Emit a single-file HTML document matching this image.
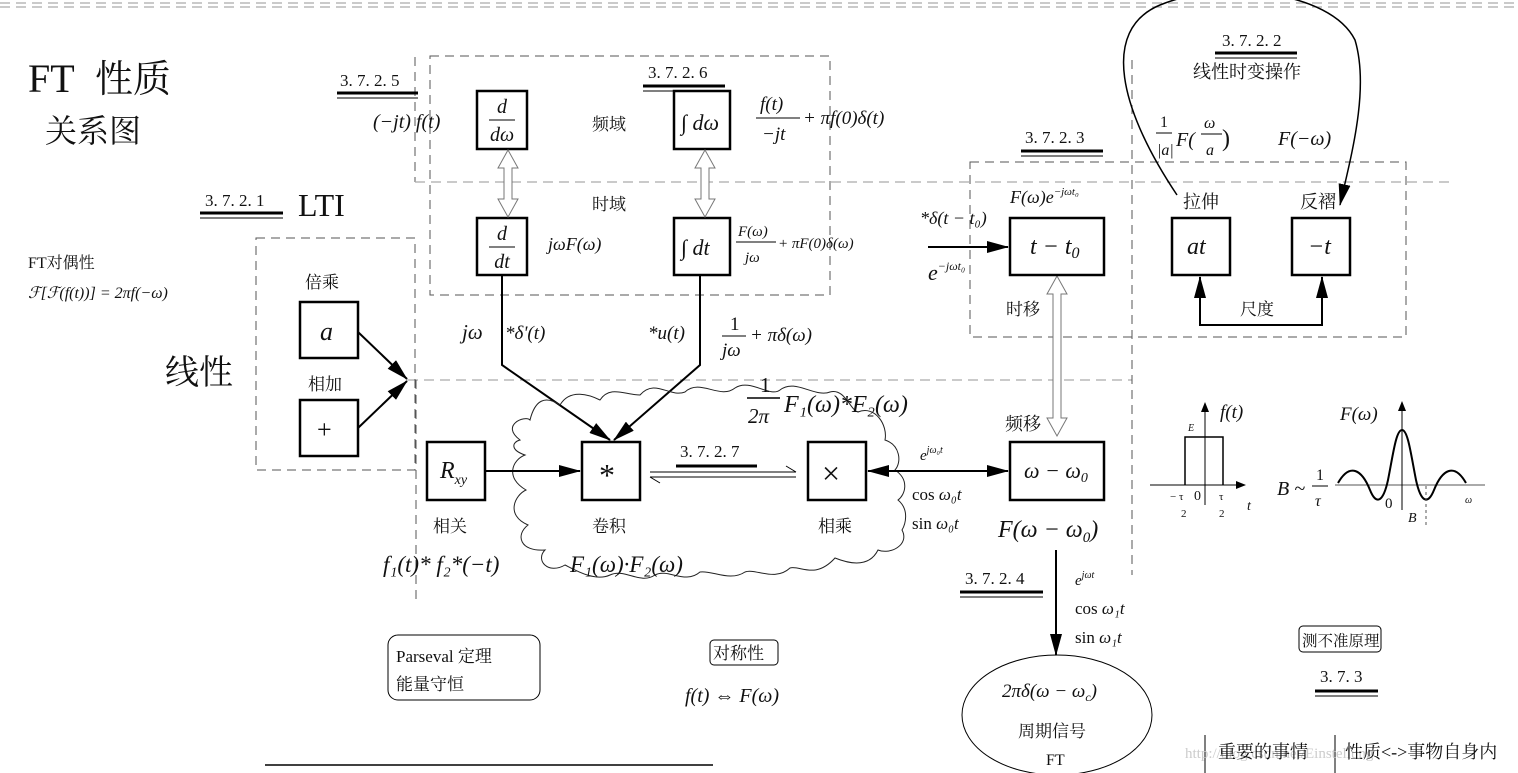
<!DOCTYPE html>
<html><head><meta charset="utf-8"><style>
html,body{margin:0;padding:0;background:#fff;width:1518px;height:773px;overflow:hidden}
svg{display:block}
text{font-family:"Liberation Serif","Noto Serif CJK SC",serif;fill:#111}
.m{font-style:italic}
.d{stroke:#555;stroke-width:1;stroke-dasharray:9 6;fill:none}
.dl{stroke:#aaa;stroke-width:1.2;stroke-dasharray:10 6;fill:none}
.b{stroke:#000;stroke-width:2.5;fill:#fff}
.l{stroke:#000;stroke-width:2;fill:none}
</style></head><body>
<svg width="1518" height="773" viewBox="0 0 1518 773">
<defs>
<marker id="ah" markerWidth="10" markerHeight="8" refX="9" refY="4" orient="auto" markerUnits="userSpaceOnUse" viewBox="0 0 10 8"><path d="M0,0 L10,4 L0,8 z" fill="#000"/></marker>
<marker id="ah2" markerWidth="22" markerHeight="12" refX="21" refY="6" orient="auto" markerUnits="userSpaceOnUse" viewBox="0 0 22 12"><path d="M0,0 L22,6 L0,12 z" fill="#000"/></marker>
<marker id="ah2s" markerWidth="22" markerHeight="12" refX="1" refY="6" orient="auto" markerUnits="userSpaceOnUse" viewBox="0 0 22 12"><path d="M22,0 L0,6 L22,12 z" fill="#000"/></marker>
</defs>
<line x1="0" y1="3" x2="1518" y2="3" class="dl"/>
<line x1="0" y1="7" x2="1518" y2="7" class="dl"/>

<text x="28" y="92" font-size="40">FT</text>
<text x="95" y="92" font-size="38">性质</text>
<text x="45" y="142" font-size="32">关系图</text>

<rect x="430" y="56" width="400" height="239" class="d"/>
<line x1="415" y1="57" x2="415" y2="182" class="d"/>
<line x1="415" y1="182" x2="1450" y2="182" class="dl"/>
<line x1="408" y1="380" x2="1132" y2="380" class="dl"/>
<line x1="1132" y1="60" x2="1132" y2="575" class="d"/>
<line x1="416" y1="380" x2="416" y2="600" class="d"/>
<rect x="970" y="162" width="436" height="175" class="d"/>
<rect x="256" y="238" width="159" height="232" class="d"/>

<g font-size="17">
<text x="340" y="86">3. 7. 2. 5</text>
<line x1="337" y1="93" x2="418" y2="93" stroke="#000" stroke-width="3"/><line x1="337" y1="98" x2="418" y2="98" stroke="#000" stroke-width="1"/>
<text x="648" y="78">3. 7. 2. 6</text>
<line x1="643" y1="86" x2="725" y2="86" stroke="#000" stroke-width="3"/><line x1="643" y1="91" x2="725" y2="91" stroke="#000" stroke-width="1"/>
<text x="205" y="206">3. 7. 2. 1</text>
<line x1="200" y1="213" x2="283" y2="213" stroke="#000" stroke-width="3"/><line x1="200" y1="218" x2="283" y2="218" stroke="#000" stroke-width="1"/>
<text x="1025" y="143">3. 7. 2. 3</text>
<line x1="1021" y1="151" x2="1103" y2="151" stroke="#000" stroke-width="3"/><line x1="1021" y1="156" x2="1103" y2="156" stroke="#000" stroke-width="1"/>
<text x="1222" y="46">3. 7. 2. 2</text>
<line x1="1215" y1="53" x2="1297" y2="53" stroke="#000" stroke-width="3"/><line x1="1215" y1="58" x2="1297" y2="58" stroke="#000" stroke-width="1"/>
<text x="680" y="457">3. 7. 2. 7</text>
<line x1="676" y1="466" x2="757" y2="466" stroke="#000" stroke-width="3"/>
<text x="965" y="584">3. 7. 2. 4</text>
<line x1="960" y1="592" x2="1043" y2="592" stroke="#000" stroke-width="3"/><line x1="960" y1="597" x2="1043" y2="597" stroke="#000" stroke-width="1"/>
<text x="1320" y="682">3. 7. 3</text>
<line x1="1315" y1="691" x2="1378" y2="691" stroke="#000" stroke-width="3"/><line x1="1315" y1="696" x2="1378" y2="696" stroke="#000" stroke-width="1"/>
</g>
<text x="298" y="216" font-size="32">LTI</text>

<text x="28" y="268" font-size="16">FT对偶性</text>
<text x="28" y="298" font-size="16" class="m">ℱ[ℱ(f(t))] = 2πf(−ω)</text>

<text x="305" y="288" font-size="17">倍乘</text>
<rect x="300" y="302" width="58" height="56" class="b"/><text x="320" y="340" font-size="26" class="m">a</text>
<text x="308" y="390" font-size="17">相加</text>
<rect x="300" y="400" width="58" height="56" class="b"/><text x="317" y="438" font-size="26">+</text>
<text x="165" y="384" font-size="34">线性</text>
<line x1="358" y1="332" x2="407" y2="379" class="l" marker-end="url(#ah2)"/>
<line x1="358" y1="428" x2="407" y2="381" class="l" marker-end="url(#ah2)"/>

<rect x="477" y="91" width="50" height="58" class="b"/>
<text x="502" y="113" font-size="20" class="m" text-anchor="middle">d</text><line x1="489" y1="120" x2="515" y2="120" stroke="#000"/><text x="502" y="141" font-size="20" class="m" text-anchor="middle">dω</text>
<rect x="674" y="91" width="56" height="58" class="b"/><text x="681" y="130" font-size="22" class="m">∫ dω</text>
<rect x="477" y="218" width="50" height="57" class="b"/>
<text x="502" y="240" font-size="20" class="m" text-anchor="middle">d</text><line x1="489" y1="247" x2="515" y2="247" stroke="#000"/><text x="502" y="268" font-size="20" class="m" text-anchor="middle">dt</text>
<rect x="674" y="218" width="56" height="57" class="b"/><text x="681" y="255" font-size="22" class="m">∫ dt</text>
<g stroke="#777" fill="#fff" stroke-width="1">
<path d="M508,150 L498,168 L504,168 L504,199 L498,199 L508,217 L518,199 L512,199 L512,168 L518,168 Z"/>
<path d="M705,150 L695,168 L701,168 L701,199 L695,199 L705,217 L715,199 L709,199 L709,168 L715,168 Z"/>
<path d="M1057,276 L1047,294 L1053,294 L1053,418 L1047,418 L1057,436 L1067,418 L1061,418 L1061,294 L1067,294 Z"/>
</g>
<text x="592" y="130" font-size="17">频域</text>
<text x="592" y="210" font-size="17">时域</text>
<text x="373" y="128" font-size="20" class="m">(−jt) f(t)</text>
<text x="760" y="110" font-size="19" class="m">f(t)</text><line x1="756" y1="118" x2="800" y2="118" stroke="#000"/><text x="762" y="140" font-size="19" class="m">−jt</text>
<text x="803" y="124" font-size="19" class="m">+ πf(0)δ(t)</text>
<text x="548" y="250" font-size="18" class="m">jωF(ω)</text>
<text x="738" y="236" font-size="15" class="m">F(ω)</text><line x1="736" y1="242" x2="776" y2="242" stroke="#000"/><text x="745" y="262" font-size="15" class="m">jω</text>
<text x="778" y="248" font-size="15" class="m">+ πF(0)δ(ω)</text>

<polyline points="502,275 502,365 610,440" class="l" marker-end="url(#ah2)"/>
<polyline points="700,275 700,365 614,440" class="l" marker-end="url(#ah2)"/>
<text x="462" y="339" font-size="21" class="m">jω</text>
<text x="505" y="339" font-size="19" class="m">*δ'(t)</text>
<text x="648" y="339" font-size="19" class="m">*u(t)</text>
<text x="730" y="330" font-size="19">1</text><line x1="722" y1="336" x2="746" y2="336" stroke="#000"/><text x="722" y="356" font-size="19" class="m">jω</text>
<text x="750" y="341" font-size="19" class="m">+ πδ(ω)</text>

<path d="M520,440 C500,425 525,415 530,420 C535,400 545,395 560,405 C570,388 590,395 600,400 C610,385 625,395 640,395 C655,378 670,398 685,392 C700,378 720,400 735,388 C750,378 770,398 780,390 C795,378 815,398 830,392 C845,388 850,410 858,412 C875,405 888,425 885,440 C900,445 902,462 895,470 C910,480 905,495 898,500 C910,510 905,525 902,530 C910,545 890,555 878,550 C868,570 845,562 835,558 C815,580 800,565 790,568 C775,582 755,568 745,572 C730,582 712,570 700,572 C685,585 668,568 655,575 C640,585 625,568 610,575 C595,582 575,570 565,565 C548,575 535,560 545,550 C520,552 515,535 528,525 C505,515 515,495 526,490 C505,478 512,460 525,455 C510,450 512,442 520,440 Z" fill="none" stroke="#222" stroke-width="1"/>

<text x="760" y="392" font-size="21">1</text><line x1="747" y1="398" x2="780" y2="398" stroke="#000" stroke-width="1.5"/><text x="748" y="423" font-size="21" class="m">2π</text>
<text x="784" y="412" font-size="24" class="m">F₁(ω)*F₂(ω)</text>

<rect x="427" y="442" width="58" height="58" class="b"/><text x="440" y="478" font-size="24" class="m">R<tspan font-size="14" dy="6">xy</tspan></text>
<rect x="582" y="442" width="58" height="58" class="b"/><text x="599" y="486" font-size="32">*</text>
<rect x="808" y="442" width="58" height="58" class="b"/><text x="822" y="484" font-size="32">×</text>
<line x1="485" y1="471" x2="580" y2="471" class="l" marker-end="url(#ah2)"/>
<g stroke="#000" stroke-width="1" fill="none">
<line x1="650" y1="472" x2="796" y2="472"/><polyline points="786,466 796,472"/>
<line x1="650" y1="477" x2="796" y2="477"/><polyline points="650,477 660,483"/>
</g>
<line x1="868" y1="471" x2="1008" y2="471" class="l" marker-end="url(#ah2)" marker-start="url(#ah2s)"/>
<text x="920" y="460" font-size="15" class="m">e<tspan font-size="10" dy="-7">jω₀t</tspan></text>
<text x="912" y="500" font-size="17">cos <tspan class="m">ω₀t</tspan></text>
<text x="912" y="529" font-size="17">sin <tspan class="m">ω₀t</tspan></text>
<text x="433" y="532" font-size="17">相关</text>
<text x="592" y="532" font-size="17">卷积</text>
<text x="818" y="532" font-size="17">相乘</text>
<text x="383" y="572" font-size="23" class="m">f₁(t)* f₂*(−t)</text>
<text x="570" y="572" font-size="23" class="m">F₁(ω)·F₂(ω)</text>

<text x="1010" y="203" font-size="18" class="m">F(ω)e<tspan font-size="11" dy="-8">−jωt₀</tspan></text>
<text x="920" y="224" font-size="18" class="m">*δ(t − t₀)</text>
<line x1="928" y1="247" x2="1008" y2="247" class="l" marker-end="url(#ah2)"/>
<text x="928" y="280" font-size="22" class="m">e<tspan font-size="12" dy="-10">−jωt₀</tspan></text>
<rect x="1010" y="218" width="94" height="57" class="b"/><text x="1030" y="254" font-size="24" class="m">t − t<tspan font-size="16" dy="4">0</tspan></text>
<text x="1006" y="315" font-size="17">时移</text>
<rect x="1172" y="218" width="58" height="57" class="b"/><text x="1187" y="254" font-size="24" class="m">at</text>
<rect x="1292" y="218" width="58" height="57" class="b"/><text x="1308" y="254" font-size="24" class="m">−t</text>
<text x="1183" y="208" font-size="18">拉伸</text>
<text x="1300" y="208" font-size="18">反褶</text>
<text x="1240" y="315" font-size="17">尺度</text>
<polyline points="1200,295 1200,325 1322,325 1322,295" fill="none" stroke="#000" stroke-width="2"/>
<line x1="1200" y1="300" x2="1200" y2="277" class="l" marker-end="url(#ah2)"/>
<line x1="1322" y1="300" x2="1322" y2="277" class="l" marker-end="url(#ah2)"/>
<path d="M1177,195 C1120,110 1100,30 1160,5 C1220,-20 1330,-10 1355,40 C1370,90 1350,160 1340,205" fill="none" stroke="#000" stroke-width="1.5" marker-end="url(#ah2)"/>
<text x="1193" y="78" font-size="18">线性时变操作</text>
<text x="1160" y="127" font-size="16">1</text><line x1="1156" y1="133" x2="1172" y2="133" stroke="#000"/><text x="1157" y="155" font-size="16" class="m">|a|</text>
<text x="1176" y="146" font-size="20" class="m">F(</text>
<text x="1204" y="128" font-size="16" class="m">ω</text><line x1="1201" y1="134" x2="1222" y2="134" stroke="#000"/><text x="1206" y="155" font-size="16" class="m">a</text>
<text x="1222" y="146" font-size="24">)</text>
<text x="1278" y="145" font-size="20" class="m">F(−ω)</text>

<text x="1005" y="430" font-size="18">频移</text>
<rect x="1010" y="442" width="94" height="58" class="b"/><text x="1024" y="478" font-size="22" class="m">ω − ω<tspan font-size="14" dy="4">0</tspan></text>
<text x="998" y="537" font-size="24" class="m">F(ω − ω<tspan font-size="15" dy="5">0</tspan><tspan dy="-5">)</tspan></text>
<line x1="1056" y1="550" x2="1056" y2="655" class="l" marker-end="url(#ah2)"/>
<text x="1075" y="585" font-size="15" class="m">e<tspan font-size="10" dy="-7">jωt</tspan></text>
<text x="1075" y="614" font-size="17">cos <tspan class="m">ω₁t</tspan></text>
<text x="1075" y="643" font-size="17">sin <tspan class="m">ω₁t</tspan></text>
<ellipse cx="1057" cy="715" rx="95" ry="60" fill="none" stroke="#000" stroke-width="1"/>
<text x="1002" y="697" font-size="19" class="m">2πδ(ω − ω<tspan font-size="12" dy="4">c</tspan><tspan dy="-4">)</tspan></text>
<text x="1018" y="737" font-size="17">周期信号</text>
<text x="1046" y="765" font-size="16">FT</text>

<rect x="388" y="635" width="152" height="65" rx="10" fill="none" stroke="#000"/>
<text x="396" y="662" font-size="17">Parseval 定理</text>
<text x="396" y="690" font-size="17">能量守恒</text>
<rect x="710" y="640" width="68" height="25" rx="4" fill="none" stroke="#000"/>
<text x="713" y="659" font-size="17">对称性</text>
<text x="685" y="702" font-size="20" class="m">f(t) ⇔ F(ω)</text>
<line x1="265" y1="765" x2="713" y2="765" stroke="#000" stroke-width="1.5"/>

<line x1="1150" y1="485" x2="1245" y2="485" stroke="#000" stroke-width="1" marker-end="url(#ah)"/>
<line x1="1205" y1="505" x2="1205" y2="403" stroke="#000" stroke-width="1" marker-end="url(#ah)"/>
<polyline points="1185,485 1185,437 1223,437 1223,485" fill="none" stroke="#000" stroke-width="1.5"/>
<text x="1188" y="431" font-size="10" class="m">E</text>
<text x="1220" y="418" font-size="19" class="m">f(t)</text>
<text x="1170" y="500" font-size="11">− τ</text><text x="1181" y="517" font-size="11">2</text>
<text x="1194" y="500" font-size="14">0</text>
<text x="1219" y="500" font-size="11">τ</text><text x="1219" y="517" font-size="11">2</text>
<text x="1247" y="510" font-size="14" class="m">t</text>
<text x="1277" y="495" font-size="20" class="m">B ~</text>
<text x="1316" y="480" font-size="16">1</text><line x1="1312" y1="486" x2="1328" y2="486" stroke="#000"/><text x="1315" y="506" font-size="16" class="m">τ</text>
<line x1="1335" y1="485" x2="1485" y2="485" stroke="#555" stroke-width="1"/>
<line x1="1402" y1="510" x2="1402" y2="402" stroke="#000" stroke-width="1" marker-end="url(#ah)"/>
<path d="M1338,483 C1350,462 1362,470 1370,490 C1376,505 1383,503 1388,480 C1393,455 1396,430 1402,430 C1408,430 1411,455 1416,480 C1421,503 1428,505 1434,490 C1442,470 1454,462 1466,483" fill="none" stroke="#000" stroke-width="2"/>
<line x1="1426" y1="486" x2="1426" y2="525" stroke="#555" stroke-dasharray="3 3"/>
<text x="1340" y="420" font-size="19" class="m">F(ω)</text>
<text x="1385" y="508" font-size="15">0</text>
<text x="1408" y="522" font-size="14" class="m">B</text>
<text x="1465" y="503" font-size="10" class="m">ω</text>
<rect x="1299" y="626" width="82" height="26" rx="4" fill="none" stroke="#000"/>
<text x="1302" y="646" font-size="15.5">测不准原理</text>

<line x1="1205" y1="735" x2="1205" y2="773" stroke="#000"/>
<line x1="1335" y1="735" x2="1335" y2="773" stroke="#000"/>
<text x="1185" y="758" font-size="15" style="fill:#ccc">http://blog.csdn.net/Einstellung</text>
<text x="1218" y="758" font-size="18">重要的事情</text>
<text x="1345" y="758" font-size="18">性质&lt;-&gt;事物自身内</text>
</svg>
</body></html>
